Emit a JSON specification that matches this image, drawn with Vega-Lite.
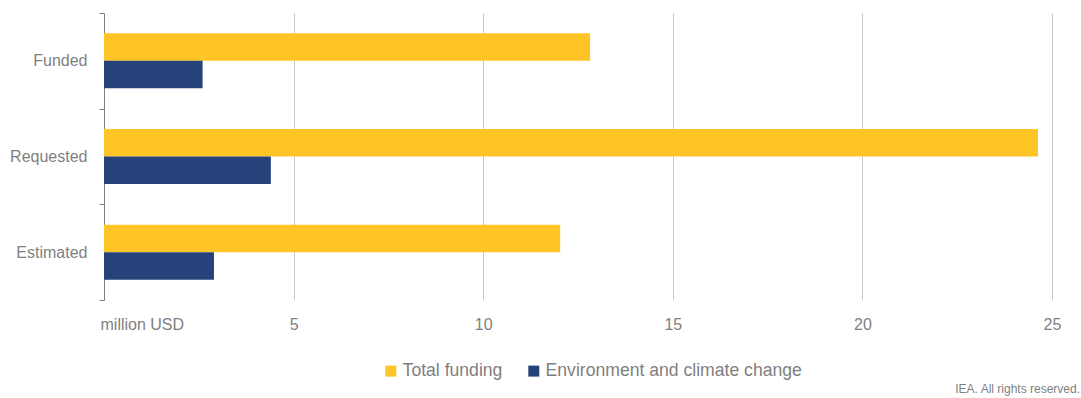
{
  "$schema": "https://vega.github.io/schema/vega-lite/v6.json",
  "autosize": {"type": "none"},
  "width": 948,
  "height": 287,
  "padding": {"left": 104, "top": 13, "right": 29, "bottom": 98},
  "background": "white",
  "title": {
    "text": "IEA. All rights reserved.",
    "orient": "bottom",
    "anchor": "end",
    "frame": "group",
    "fontSize": 12,
    "font": "Liberation Sans",
    "fontWeight": "normal",
    "color": "#7f7f7f",
    "offset": 4,
    "dx": 28
  },
  "data": {
    "values": [
      {"category": "Funded", "series": "Total funding", "value": 12.82},
      {"category": "Funded", "series": "Environment and climate change", "value": 2.6},
      {"category": "Requested", "series": "Total funding", "value": 24.63},
      {"category": "Requested", "series": "Environment and climate change", "value": 4.4},
      {"category": "Estimated", "series": "Total funding", "value": 12.03},
      {"category": "Estimated", "series": "Environment and climate change", "value": 2.9}
    ]
  },
  "mark": {"type": "bar"},
  "encoding": {
    "y": {
      "field": "category",
      "type": "nominal",
      "sort": ["Funded", "Requested", "Estimated"],
      "scale": {"paddingInner": 0, "paddingOuter": 0},
      "axis": {
        "title": null,
        "domain": true,
        "domainColor": "#7f7f7f",
        "ticks": true,
        "tickBand": "extent",
        "tickSize": 5,
        "tickColor": "#7f7f7f",
        "labelPadding": 12,
        "labelFontSize": 16,
        "labelColor": "#7f7f7f",
        "labelFont": "Liberation Sans",
        "grid": false
      }
    },
    "yOffset": {
      "field": "series",
      "type": "nominal",
      "sort": ["Total funding", "Environment and climate change"],
      "scale": {"paddingInner": 0, "paddingOuter": 0.74}
    },
    "x": {
      "field": "value",
      "type": "quantitative",
      "scale": {"domain": [0, 25], "nice": false},
      "axis": {
        "title": null,
        "values": [0, 5, 10, 15, 20, 25],
        "domain": false,
        "ticks": false,
        "grid": true,
        "gridColor": "#c8c8c8",
        "gridWidth": 1,
        "labelPadding": 16,
        "labelFontSize": 16,
        "labelColor": "#7f7f7f",
        "labelFont": "Liberation Sans",
        "labelExpr": "datum.value == 0 ? 'million USD' : datum.label",
        "labelAlign": {"condition": {"test": "datum.value == 0", "value": "left"}, "value": "center"},
        "labelOffset": {"condition": {"test": "datum.value == 0", "value": -4}, "value": 0},
        "labelFlush": false,
        "gridOpacity": {"condition": {"test": "datum.value == 0", "value": 0}, "value": 1}
      }
    },
    "color": {
      "field": "series",
      "type": "nominal",
      "sort": ["Total funding", "Environment and climate change"],
      "scale": {"domain": ["Total funding", "Environment and climate change"], "range": ["#FFC526", "#26427A"]},
      "legend": {
        "title": null,
        "orient": "none",
        "direction": "horizontal",
        "legendX": 278,
        "legendY": 349,
        "symbolType": "square",
        "symbolSize": 121,
        "symbolStrokeWidth": 0,
        "labelFontSize": 17.6,
        "labelColor": "#7f7f7f",
        "labelFont": "Liberation Sans",
        "labelOffset": 3,
        "columnPadding": 22,
        "labelLimit": 400
      }
    }
  },
  "config": {
    "view": {"stroke": null},
    "bar": {"stroke": null}
  }
}
